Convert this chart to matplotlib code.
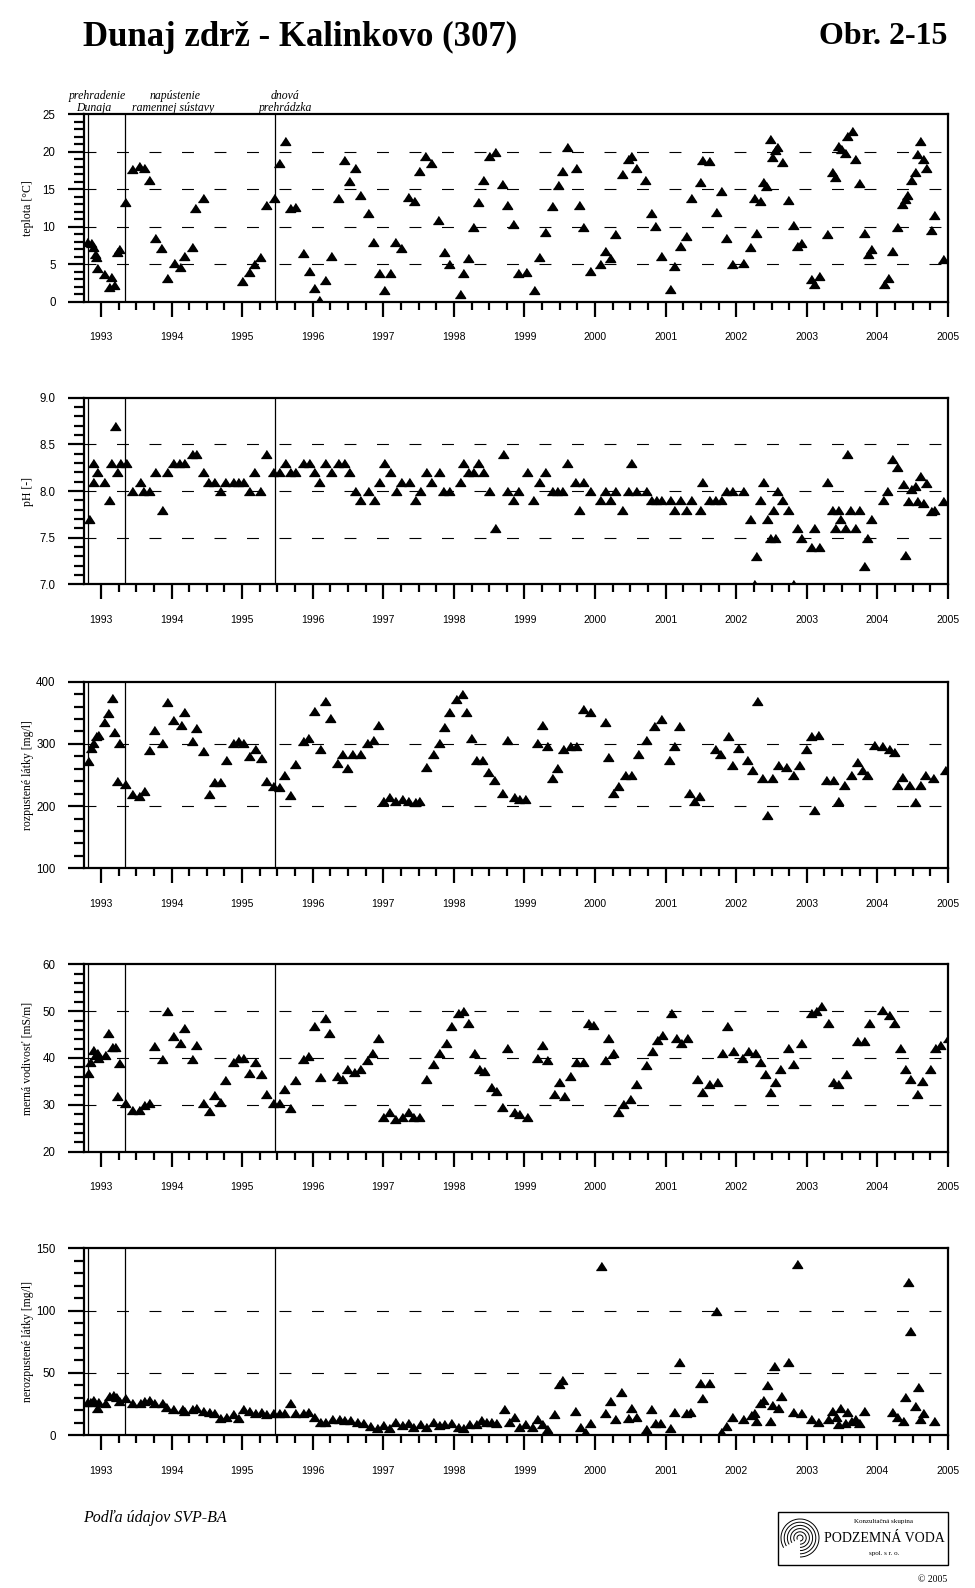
import matplotlib
matplotlib.use('Agg')
import matplotlib.pyplot as plt
from matplotlib.ticker import MultipleLocator, FormatStrFormatter
from matplotlib.patches import Rectangle, Arc

plt.rcParams['lines.scale_dashes'] = False

# ---------------- data (decimal years, values) ----------------
temp_t = [1992.806, 1992.854, 1992.882, 1992.910, 1992.929, 1992.948, 1993.042, 1993.118, 1993.137, 1993.184,
          1993.222, 1993.260, 1993.340, 1993.434, 1993.543, 1993.609, 1993.680, 1993.765, 1993.850, 1993.930,
          1994.034, 1994.119, 1994.180, 1994.284, 1994.336, 1994.449, 1995.002, 1995.101, 1995.172, 1995.257,
          1995.337, 1995.450, 1995.521, 1995.602, 1995.672, 1995.753, 1995.866, 1995.942, 1996.017, 1996.093,
          1996.173, 1996.253, 1996.362, 1996.437, 1996.517, 1996.598, 1996.669, 1996.787, 1996.857, 1996.942,
          1997.008, 1997.093, 1997.164, 1997.245, 1997.353, 1997.438, 1997.509, 1997.594, 1997.670, 1997.778,
          1997.858, 1997.929, 1998.085, 1998.132, 1998.203, 1998.264, 1998.335, 1998.415, 1998.500, 1998.585,
          1998.680, 1998.755, 1998.840, 1998.911,
          1999.020, 1999.133, 1999.204, 1999.289, 1999.383, 1999.478, 1999.525, 1999.605, 1999.723, 1999.775,
          1999.832, 1999.926, 2000.077, 2000.139, 2000.209, 2000.280, 2000.375, 2000.469, 2000.507, 2000.578,
          2000.705, 2000.790, 2000.847, 2000.932, 2001.059, 2001.116, 2001.201, 2001.295, 2001.366, 2001.484,
          2001.517, 2001.616, 2001.711, 2001.782, 2001.862, 2001.947, 2002.098, 2002.192, 2002.287, 2002.254,
          2002.343, 2002.381, 2002.428, 2002.476, 2002.509, 2002.547, 2002.580, 2002.646, 2002.735, 2002.806,
          2002.863, 2002.924, 2003.066, 2003.099, 2003.175, 2003.288, 2003.359, 2003.396, 2003.444, 2003.491,
          2003.538, 2003.571, 2003.633, 2003.680, 2003.741, 2003.812, 2003.868, 2003.916, 2004.091, 2004.152,
          2004.213, 2004.284, 2004.355, 2004.388, 2004.421, 2004.473, 2004.530, 2004.563, 2004.610, 2004.648,
          2004.695, 2004.766, 2004.799, 2004.931]
temp_v = [7.9, 7.8, 7.3, 6.4, 6.0, 4.5, 3.7, 2.0, 3.3, 2.2,
          6.6, 7.0, 13.3, 17.7, 18.1, 17.9, 16.2, 8.5, 7.1, 3.1,
          5.1, 4.6, 6.1, 7.3, 12.5, 13.8, 2.8, 3.9, 5.0, 6.0,
          12.9, 13.9, 18.5, 21.4, 12.5, 12.6, 6.5, 4.1, 1.8, 0.2,
          2.9, 6.1, 13.8, 18.9, 16.1, 17.9, 14.2, 11.8, 7.9, 3.8,
          1.6, 3.8, 7.9, 7.1, 14.0, 13.5, 17.4, 19.4, 18.5, 10.9,
          6.6, 5.0, 1.0, 3.8, 5.8, 9.9, 13.3, 16.3, 19.4, 20.0,
          15.7, 12.9, 10.3, 3.8,
          3.9, 1.6, 6.0, 9.3, 12.8, 15.6, 17.4, 20.6, 17.9, 12.9,
          9.9, 4.1, 5.0, 6.8, 5.8, 9.0, 17.0, 19.0, 19.4, 17.9,
          16.2, 11.8, 10.1, 6.1, 1.7, 4.8, 7.4, 8.8, 13.8, 16.0,
          18.9, 18.8, 11.9, 14.8, 8.5, 5.0, 5.2, 7.3, 9.2, 13.9,
          13.5, 16.0, 15.5, 21.7, 19.3, 20.2, 20.6, 18.7, 13.6, 10.2,
          7.4, 7.8, 3.0, 2.4, 3.4, 9.0, 17.3, 16.7, 20.8, 20.4,
          19.9, 22.1, 22.8, 19.0, 15.9, 9.2, 6.4, 7.0, 2.3, 3.2,
          6.8, 9.9, 13.0, 13.7, 14.2, 16.2, 17.3, 19.7, 21.4, 19.0,
          17.9, 9.6, 11.5, 5.7]

ph_t = [1992.835, 1992.882, 1992.891, 1992.948, 1993.042, 1993.113, 1993.137, 1993.194, 1993.231, 1993.269,
        1993.349, 1993.434, 1993.552, 1993.590, 1993.685, 1993.765, 1993.859, 1993.930, 1994.025, 1994.110,
        1994.180, 1994.284, 1994.346, 1994.449, 1994.520, 1994.605, 1994.686, 1994.756, 1994.874, 1994.945,
        1995.016, 1995.101, 1995.172, 1995.252, 1995.337, 1995.441, 1995.521, 1995.606, 1995.677, 1995.748,
        1995.866, 1995.946, 1996.022, 1996.093, 1996.173, 1996.253, 1996.352, 1996.442, 1996.517, 1996.598,
        1996.673, 1996.787, 1996.862, 1996.942, 1997.013, 1997.093, 1997.174, 1997.245, 1997.367, 1997.448,
        1997.518, 1997.599, 1997.670, 1997.783, 1997.849, 1997.934, 1998.085, 1998.132, 1998.203, 1998.264,
        1998.335, 1998.415, 1998.500, 1998.585, 1998.689, 1998.746, 1998.840, 1998.911,
        1999.029, 1999.123, 1999.204, 1999.289, 1999.383, 1999.454, 1999.525, 1999.605, 1999.714, 1999.775,
        1999.832, 1999.926, 2000.077, 2000.139, 2000.209, 2000.280, 2000.375, 2000.469, 2000.516, 2000.578,
        2000.719, 2000.790, 2000.861, 2000.932, 2001.059, 2001.121, 2001.201, 2001.295, 2001.366, 2001.484,
        2001.517, 2001.616, 2001.697, 2001.782, 2001.852, 2001.947, 2002.098, 2002.192, 2002.254, 2002.277,
        2002.343, 2002.381, 2002.438, 2002.476, 2002.514, 2002.547, 2002.584, 2002.650, 2002.735, 2002.806,
        2002.863, 2002.924, 2003.056, 2003.099, 2003.175, 2003.288, 2003.359, 2003.396, 2003.444, 2003.477,
        2003.538, 2003.571, 2003.618, 2003.680, 2003.741, 2003.812, 2003.859, 2003.916, 2004.081, 2004.142,
        2004.213, 2004.284, 2004.364, 2004.397, 2004.435, 2004.473, 2004.530, 2004.563, 2004.610, 2004.648,
        2004.695, 2004.766, 2004.799, 2004.931]
ph_v = [7.7, 8.3, 8.1, 8.2, 8.1, 7.9, 8.3, 8.7, 8.2, 8.3,
        8.3, 8.0, 8.1, 8.0, 8.0, 8.2, 7.8, 8.2, 8.3, 8.3,
        8.3, 8.4, 8.4, 8.2, 8.1, 8.1, 8.0, 8.1, 8.1, 8.1,
        8.1, 8.0, 8.2, 8.0, 8.4, 8.2, 8.2, 8.3, 8.2, 8.2,
        8.3, 8.3, 8.2, 8.1, 8.3, 8.2, 8.3, 8.3, 8.2, 8.0,
        7.9, 8.0, 7.9, 8.1, 8.3, 8.2, 8.0, 8.1, 8.1, 7.9,
        8.0, 8.2, 8.1, 8.2, 8.0, 8.0, 8.1, 8.3, 8.2, 8.2,
        8.3, 8.2, 8.0, 7.6, 8.4, 8.0, 7.9, 8.0,
        8.2, 7.9, 8.1, 8.2, 8.0, 8.0, 8.0, 8.3, 8.1, 7.8,
        8.1, 8.0, 7.9, 8.0, 7.9, 8.0, 7.8, 8.0, 8.3, 8.0,
        8.0, 7.9, 7.9, 7.9, 7.9, 7.8, 7.9, 7.8, 7.9, 7.8,
        8.1, 7.9, 7.9, 7.9, 8.0, 8.0, 8.0, 7.7, 7.0, 7.3,
        7.9, 8.1, 7.7, 7.5, 7.8, 7.5, 8.0, 7.9, 7.8, 7.0,
        7.6, 7.5, 7.4, 7.6, 7.4, 8.1, 7.8, 7.6, 7.8, 7.7,
        7.6, 8.4, 7.8, 7.6, 7.8, 7.2, 7.5, 7.7, 7.9, 8.0,
        8.34, 8.26, 8.07, 7.31, 7.89, 8.02, 8.05, 7.89, 8.16, 7.87,
        8.09, 7.79, 7.80, 7.89]

rl_t = [1992.821, 1992.854, 1992.882, 1992.929, 1992.962, 1993.047, 1993.104, 1993.151, 1993.189, 1993.260,
        1993.222, 1993.340, 1993.434, 1993.543, 1993.614, 1993.685, 1993.755, 1993.859, 1993.930, 1994.025,
        1994.128, 1994.176, 1994.284, 1994.341, 1994.449, 1994.530, 1994.601, 1994.686, 1994.766, 1994.874,
        1994.945, 1995.016, 1995.101, 1995.181, 1995.262, 1995.332, 1995.441, 1995.526, 1995.597, 1995.677,
        1995.748, 1995.866, 1995.937, 1996.017, 1996.102, 1996.173, 1996.244,
        1996.348, 1996.420, 1996.491, 1996.563, 1996.664, 1996.764, 1996.851, 1996.922, 1996.994, 1997.080,
        1997.167, 1997.267, 1997.353, 1997.454, 1997.511, 1997.610, 1997.698, 1997.784, 1997.860, 1997.928,
        1998.029, 1998.115,
        1998.172, 1998.244, 1998.316, 1998.402, 1998.489, 1998.575, 1998.675, 1998.747, 1998.848, 1998.920,
        1999.006, 1999.178, 1999.250, 1999.322, 1999.394, 1999.466, 1999.552, 1999.638, 1999.724, 1999.825,
        1999.925, 2000.141, 2000.184, 2000.256, 2000.328, 2000.428, 2000.514, 2000.615, 2000.716, 2000.830,
        2000.931, 2001.046, 2001.118, 2001.190, 2001.333, 2001.405, 2001.477, 2001.693, 2001.764, 2001.879,
        2001.937, 2002.023, 2002.152, 2002.224, 2002.296, 2002.368, 2002.440, 2002.511, 2002.598, 2002.698,
        2002.799, 2002.885, 2002.986, 2003.057, 2003.100, 2003.158, 2003.273, 2003.374, 2003.445, 2003.532,
        2003.632, 2003.704, 2003.776, 2003.848, 2003.948, 2004.063, 2004.164, 2004.236, 2004.279, 2004.351,
        2004.451, 2004.537, 2004.609, 2004.681, 2004.782, 2004.954]
rl_v = [273, 294, 301, 313, 314, 336, 349, 374, 319, 301,
        241, 236, 219, 216, 224, 290, 322, 302, 368, 338,
        330, 351, 305, 325, 289, 219, 238, 238, 274, 301,
        305, 302, 280, 291, 278, 241, 232, 230, 250, 218,
        268, 304, 310, 353, 291, 369, 341,
        270, 283, 261, 283, 283, 302, 307, 331, 209, 214,
        208, 211, 209, 206, 208, 263, 283, 302, 327, 351,
        372, 380,
        351, 310, 274, 274, 255, 242, 221, 307, 214, 212,
        211, 302, 331, 296, 245, 261, 291, 296, 296, 356,
        351, 335, 279, 221, 232, 250, 250, 283, 307, 328,
        340, 274, 296, 328, 221, 209, 217, 291, 283, 312,
        266, 294, 274, 258, 369, 245, 185, 245, 266, 263,
        250, 266, 291, 312, 193, 315, 242, 242, 209, 234,
        250, 271, 258, 250, 299, 296, 291, 287, 234, 247,
        234, 206, 234, 250, 245, 258]

mv_t = [1992.821, 1992.844, 1992.891, 1992.915, 1992.939, 1992.962, 1993.057, 1993.104, 1993.151, 1993.198,
        1993.260, 1993.222, 1993.340, 1993.434, 1993.543, 1993.614, 1993.685, 1993.751, 1993.859, 1993.930,
        1994.025, 1994.119, 1994.176, 1994.284, 1994.341, 1994.449, 1994.530, 1994.601, 1994.686, 1994.756,
        1994.874, 1994.945, 1995.016, 1995.101, 1995.181, 1995.262, 1995.332, 1995.441, 1995.526, 1995.597,
        1995.677, 1995.748, 1995.866, 1995.937, 1996.017, 1996.102, 1996.173, 1996.234,
        1996.348, 1996.420, 1996.491, 1996.592, 1996.664, 1996.764, 1996.836, 1996.922, 1996.994, 1997.080,
        1997.167, 1997.267, 1997.353, 1997.425, 1997.511, 1997.598, 1997.698, 1997.784, 1997.885, 1997.957,
        1998.057, 1998.129, 1998.201, 1998.287, 1998.359, 1998.431, 1998.532, 1998.603, 1998.675, 1998.747,
        1998.848, 1998.920, 1999.034, 1999.178, 1999.250, 1999.322, 1999.422, 1999.494, 1999.566, 1999.652,
        1999.724, 1999.825, 1999.897, 1999.968, 2000.141, 2000.184, 2000.256, 2000.328, 2000.399, 2000.500,
        2000.586, 2000.716, 2000.802, 2000.874, 2000.945, 2001.075, 2001.147, 2001.218, 2001.305, 2001.448,
        2001.520, 2001.621, 2001.721, 2001.793, 2001.865, 2001.951, 2002.080, 2002.167, 2002.267, 2002.339,
        2002.411, 2002.483, 2002.555, 2002.626, 2002.727, 2002.799, 2002.914, 2003.057, 2003.129, 2003.201,
        2003.302, 2003.374, 2003.445, 2003.560, 2003.704, 2003.805, 2003.876, 2004.063, 2004.164, 2004.236,
        2004.322, 2004.394, 2004.466, 2004.566, 2004.638, 2004.739, 2004.810, 2004.882, 2004.997]
mv_v = [36.9, 39.2, 41.7, 40.6, 41.0, 39.9, 40.6, 45.4, 42.4, 42.3,
        39.0, 31.9, 30.5, 28.9, 28.8, 30.0, 30.3, 42.6, 39.7, 50.0,
        44.6, 43.3, 46.3, 39.7, 42.8, 30.3, 28.7, 32.1, 30.7, 35.4,
        39.2, 39.9, 39.9, 36.7, 39.1, 36.6, 32.3, 30.3, 30.5, 33.4,
        29.3, 35.4, 39.8, 40.4, 46.8, 36.0, 48.6, 45.4,
        36.2, 35.6, 37.7, 37.1, 37.7, 39.5, 41.0, 44.2, 27.4, 28.4,
        26.9, 27.4, 28.4, 27.4, 27.4, 35.6, 38.8, 41.0, 43.1, 46.8,
        49.6, 50.1, 47.5, 41.0, 37.7, 37.3, 33.8, 33.0, 29.5, 42.1,
        28.4, 28.0, 27.4, 39.9, 42.7, 39.5, 32.3, 34.9, 31.9, 36.2,
        39.2, 39.2, 47.5, 47.0, 39.5, 44.2, 41.0, 28.4, 30.2, 31.2,
        34.5, 38.4, 41.4, 43.8, 44.9, 49.6, 44.2, 43.1, 44.2, 35.6,
        32.8, 34.5, 34.9, 41.0, 46.8, 41.6, 39.9, 41.6, 41.0, 39.2,
        36.6, 32.8, 34.9, 37.7, 42.1, 38.8, 43.1, 49.6, 50.1, 51.1,
        47.5, 34.9, 34.5, 36.6, 43.6, 43.6, 47.5, 50.3, 49.2, 47.5,
        42.1, 37.7, 35.6, 32.3, 35.1, 37.7, 42.1, 42.7, 44.2]

nl_t = [1992.806, 1992.844, 1992.891, 1992.939, 1992.962, 1993.057, 1993.118, 1993.165, 1993.212, 1993.260,
        1993.340, 1993.434, 1993.552, 1993.614, 1993.685, 1993.751, 1993.859, 1993.921, 1994.025, 1994.143,
        1994.180, 1994.284, 1994.341, 1994.449, 1994.530, 1994.601, 1994.686, 1994.766, 1994.874, 1994.945,
        1995.016, 1995.101, 1995.181, 1995.262, 1995.332, 1995.441, 1995.526, 1995.597, 1995.677, 1995.748,
        1995.866, 1995.937, 1996.017, 1996.102, 1996.173,
        1996.276, 1996.376, 1996.448, 1996.534, 1996.621, 1996.707, 1996.807, 1996.908, 1996.994, 1997.080,
        1997.167, 1997.267, 1997.353, 1997.425, 1997.526, 1997.598, 1997.698, 1997.784, 1997.856, 1997.957,
        1998.057, 1998.129, 1998.216, 1998.316, 1998.388, 1998.460, 1998.532, 1998.603, 1998.704, 1998.776,
        1998.848, 1998.920, 1999.006, 1999.106, 1999.178, 1999.250, 1999.322, 1999.422, 1999.494, 1999.537,
        1999.710, 1999.782, 1999.853, 1999.925,
        2000.090, 2000.140, 2000.210, 2000.280, 2000.365, 2000.470, 2000.510, 2000.580, 2000.715, 2000.786,
        2000.847, 2000.918, 2001.060, 2001.120, 2001.190, 2001.286, 2001.352, 2001.484, 2001.522, 2001.612,
        2001.711, 2001.790, 2001.862, 2001.942, 2002.098, 2002.216, 2002.250, 2002.278, 2002.334, 2002.381,
        2002.438, 2002.476, 2002.509, 2002.537, 2002.594, 2002.641, 2002.735, 2002.806, 2002.863, 2002.915,
        2003.066, 2003.160, 2003.293, 2003.350, 2003.410, 2003.435, 2003.477, 2003.538, 2003.570, 2003.632,
        2003.680, 2003.741, 2003.808, 2004.200, 2004.284, 2004.365, 2004.388, 2004.435, 2004.468, 2004.530,
        2004.568, 2004.610, 2004.648, 2004.804]
nl_v = [26.8, 26.8, 28.0, 21.4, 26.8, 26.0, 31.6, 32.1, 30.8, 27.3,
        30.0, 25.4, 26.0, 27.3, 28.1, 26.0, 26.0, 22.2, 20.6, 20.6,
        19.6, 20.6, 22.0, 19.6, 18.8, 18.0, 13.9, 14.7, 16.6, 13.9,
        20.9, 19.3, 18.0, 18.8, 16.6, 18.0, 17.4, 18.0, 26.0, 17.4,
        17.4, 18.8, 14.2, 10.7, 10.7,
        13.0, 13.0, 12.2, 12.2, 10.6, 9.8, 7.3, 5.7, 8.2, 5.7,
        10.6, 8.2, 9.8, 6.5, 9.0, 6.5, 10.6, 8.2, 9.0, 9.8,
        6.5, 5.7, 9.0, 9.0, 12.2, 10.6, 10.6, 9.8, 21.2, 10.6,
        14.7, 6.5, 9.0, 6.5, 13.0, 9.0, 4.9, 17.1, 40.8, 44.0,
        19.6, 6.5, 2.4, 9.8,
        136, 18.0, 27.6, 12.9, 34.8, 13.9, 21.4, 14.7, 4.8, 20.9,
        9.9, 9.4, 5.4, 18.2, 58.9, 18.0, 18.8, 41.5, 30.0, 41.5,
        99.9, 2.7, 7.5, 14.7, 12.9, 16.1, 17.4, 11.5, 25.4, 28.1,
        40.2, 11.5, 24.1, 55.5, 21.4, 31.6, 58.9, 18.8, 137, 18.0,
        12.6, 10.7, 12.9, 19.6, 14.7, 8.8, 21.4, 9.4, 18.8, 11.5,
        12.6, 9.4, 19.6, 18.8, 14.7, 11.3, 30.8, 123, 83.6, 23.6,
        38.8, 12.9, 17.4, 11.3]

events = [1992.82, 1993.34, 1995.46]
years = list(range(1993, 2006))

# ---------------- layout ----------------
W, H = 975, 1588
fig = plt.figure(figsize=(W / 100, H / 100), dpi=100)

def fx(px):
    return px / W

def fy(py):
    return 1 - py / H

left_px, right_px = 84, 948
panels = [
    dict(t=temp_t, v=temp_v, top=114.3, bot=301.7, ylim=(0, 25), major=5, minor=1, fmt='%d', label='teplota [°C]'),
    dict(t=ph_t, v=ph_v, top=397.7, bot=584.3, ylim=(7.0, 9.0), major=0.5, minor=0.1, fmt='%.1f', label='pH [-]'),
    dict(t=rl_t, v=rl_v, top=681.7, bot=868.3, ylim=(100, 400), major=100, minor=20, fmt='%d', label='rozpustené látky [mg/l]'),
    dict(t=mv_t, v=mv_v, top=964.3, bot=1151.7, ylim=(20, 60), major=10, minor=2, fmt='%d', label='merná vodivosť [mS/m]'),
    dict(t=nl_t, v=nl_v, top=1248.3, bot=1435.0, ylim=(0, 150), major=50, minor=10, fmt='%d', label='nerozpustené látky [mg/l]'),
]

tri = [(-1, -0.77), (1, -0.77), (0, 0.77)]
tickfont = dict(family='Liberation Sans', size=7.5)

for p in panels:
    ax = fig.add_axes([fx(left_px), fy(p['bot']), fx(right_px - left_px), (p['bot'] - p['top']) / H])
    ax.set_xlim(1992.76, 2005.0)
    ax.set_ylim(*p['ylim'])
    lo, hi = p['ylim']
    val = lo + p['major']
    while val < hi - 1e-9:
        ax.axhline(val, color='black', lw=0.8, ls=(0, (8.6, 14.8)), zorder=1)
        val += p['major']
    for e in events:
        ax.axvline(e, color='black', lw=0.9, zorder=2)
    ax.plot(p['t'], p['v'], ls='none', marker=tri, ms=7.4, color='black', zorder=3, clip_on=True)

    for s in ax.spines.values():
        s.set_linewidth(1.6)
    ax.xaxis.set_major_locator(plt.FixedLocator(years))
    ax.xaxis.set_minor_locator(MultipleLocator(0.25))
    ax.set_xticklabels([str(y) for y in years], **tickfont)
    ax.tick_params(axis='x', which='major', direction='out', length=11, width=1.6, pad=11)
    ax.tick_params(axis='x', which='minor', direction='out', length=6, width=1.6)
    ax.yaxis.set_major_locator(MultipleLocator(p['major']))
    ax.yaxis.set_minor_locator(MultipleLocator(p['minor']))
    ax.yaxis.set_major_formatter(FormatStrFormatter(p['fmt']))
    for lab in ax.get_yticklabels():
        lab.set_family('Liberation Sans')
        lab.set_size(8.3)
    ax.tick_params(axis='y', which='major', direction='out', length=11.5, width=1.6, pad=9)
    ax.tick_params(axis='y', which='minor', direction='out', length=7.5, width=1.6)
    fig.text(fx(28), fy((p['top'] + p['bot']) / 2), p['label'], rotation=90, ha='center', va='center',
             family='Liberation Serif', size=8.5)

# event annotations above top panel
ann = dict(family='Liberation Serif', style='italic', size=8.5, ha='center', va='center')
fig.text(fx(97), fy(96), 'prehradenie', **ann)
fig.text(fx(94), fy(108), 'Dunaja', **ann)
fig.text(fx(175), fy(96), 'napústenie', **ann)
fig.text(fx(173), fy(108), 'ramennej sústavy', **ann)
fig.text(fx(285), fy(96), 'dnová', **ann)
fig.text(fx(285), fy(108), 'prehrádzka', **ann)

# title
fig.text(fx(83), fy(37), 'Dunaj zdrž - Kalinkovo (307)', family='Liberation Serif', weight='bold', size=25,
         ha='left', va='center')
fig.text(fx(947), fy(37), 'Obr. 2-15', family='Liberation Serif', weight='bold', size=23, ha='right', va='center')

# footer
fig.text(fx(83), fy(1518), 'Podľa údajov SVP-BA', family='Liberation Serif', style='italic', size=11.5,
         ha='left', va='center')
fig.patches.append(Rectangle((fx(778), fy(1565)), fx(948 - 778), (1565 - 1512) / H, transform=fig.transFigure,
                             fill=False, lw=1.0, ec='black'))
fig.text(fx(884), fy(1522), 'Konzultačná skupina', family='Liberation Serif', size=5, ha='center', va='center')
fig.text(fx(884), fy(1538), 'PODZEMNÁ VODA', family='Liberation Serif', size=10, ha='center', va='center')
fig.text(fx(884), fy(1554), 'spol. s r. o.', family='Liberation Serif', size=5, ha='center', va='center')
fig.text(fx(947), fy(1580), '© 2005', family='Liberation Serif', size=7, ha='right', va='center')
for k in range(6):
    r = 3 + k * 3.2
    fig.patches.append(Arc((fx(800), fy(1538)), 2 * r / W, 2 * r / H, theta1=-90, theta2=200,
                           transform=fig.transFigure, lw=0.7, color='black'))

fig.savefig('out.png', dpi=100)
